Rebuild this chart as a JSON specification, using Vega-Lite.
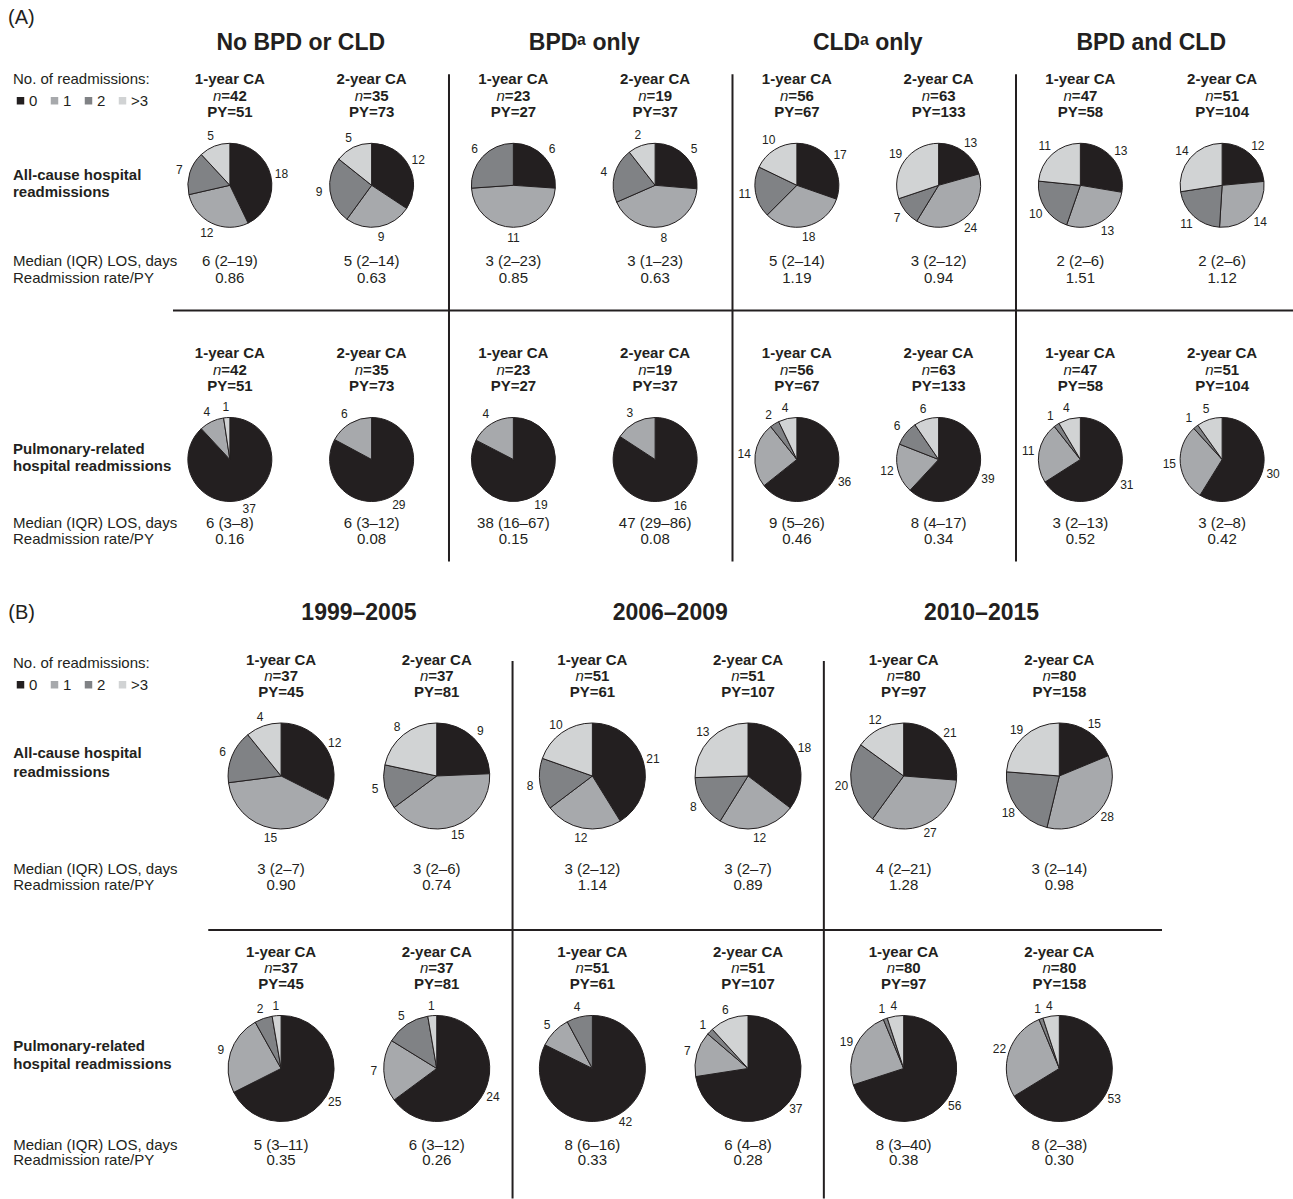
{
  "$schema": "https://vega.github.io/schema/vega-lite/v6.json",
  "padding": 0,
  "background": "white",
  "spacing": 0,
  "datasets": {
    "pies": [
      {"panel": "A", "group": "No BPD or CLD", "time": "1-year CA", "row": "All-cause", "category": "0", "n": 18},
      {"panel": "A", "group": "No BPD or CLD", "time": "1-year CA", "row": "All-cause", "category": "1", "n": 12},
      {"panel": "A", "group": "No BPD or CLD", "time": "1-year CA", "row": "All-cause", "category": "2", "n": 7},
      {"panel": "A", "group": "No BPD or CLD", "time": "1-year CA", "row": "All-cause", "category": ">3", "n": 5},
      {"panel": "A", "group": "No BPD or CLD", "time": "2-year CA", "row": "All-cause", "category": "0", "n": 12},
      {"panel": "A", "group": "No BPD or CLD", "time": "2-year CA", "row": "All-cause", "category": "1", "n": 9},
      {"panel": "A", "group": "No BPD or CLD", "time": "2-year CA", "row": "All-cause", "category": "2", "n": 9},
      {"panel": "A", "group": "No BPD or CLD", "time": "2-year CA", "row": "All-cause", "category": ">3", "n": 5},
      {"panel": "A", "group": "BPDᵃ only", "time": "1-year CA", "row": "All-cause", "category": "0", "n": 6},
      {"panel": "A", "group": "BPDᵃ only", "time": "1-year CA", "row": "All-cause", "category": "1", "n": 11},
      {"panel": "A", "group": "BPDᵃ only", "time": "1-year CA", "row": "All-cause", "category": "2", "n": 6},
      {"panel": "A", "group": "BPDᵃ only", "time": "2-year CA", "row": "All-cause", "category": "0", "n": 5},
      {"panel": "A", "group": "BPDᵃ only", "time": "2-year CA", "row": "All-cause", "category": "1", "n": 8},
      {"panel": "A", "group": "BPDᵃ only", "time": "2-year CA", "row": "All-cause", "category": "2", "n": 4},
      {"panel": "A", "group": "BPDᵃ only", "time": "2-year CA", "row": "All-cause", "category": ">3", "n": 2},
      {"panel": "A", "group": "CLDᵃ only", "time": "1-year CA", "row": "All-cause", "category": "0", "n": 17},
      {"panel": "A", "group": "CLDᵃ only", "time": "1-year CA", "row": "All-cause", "category": "1", "n": 18},
      {"panel": "A", "group": "CLDᵃ only", "time": "1-year CA", "row": "All-cause", "category": "2", "n": 11},
      {"panel": "A", "group": "CLDᵃ only", "time": "1-year CA", "row": "All-cause", "category": ">3", "n": 10},
      {"panel": "A", "group": "CLDᵃ only", "time": "2-year CA", "row": "All-cause", "category": "0", "n": 13},
      {"panel": "A", "group": "CLDᵃ only", "time": "2-year CA", "row": "All-cause", "category": "1", "n": 24},
      {"panel": "A", "group": "CLDᵃ only", "time": "2-year CA", "row": "All-cause", "category": "2", "n": 7},
      {"panel": "A", "group": "CLDᵃ only", "time": "2-year CA", "row": "All-cause", "category": ">3", "n": 19},
      {"panel": "A", "group": "BPD and CLD", "time": "1-year CA", "row": "All-cause", "category": "0", "n": 13},
      {"panel": "A", "group": "BPD and CLD", "time": "1-year CA", "row": "All-cause", "category": "1", "n": 13},
      {"panel": "A", "group": "BPD and CLD", "time": "1-year CA", "row": "All-cause", "category": "2", "n": 10},
      {"panel": "A", "group": "BPD and CLD", "time": "1-year CA", "row": "All-cause", "category": ">3", "n": 11},
      {"panel": "A", "group": "BPD and CLD", "time": "2-year CA", "row": "All-cause", "category": "0", "n": 12},
      {"panel": "A", "group": "BPD and CLD", "time": "2-year CA", "row": "All-cause", "category": "1", "n": 14},
      {"panel": "A", "group": "BPD and CLD", "time": "2-year CA", "row": "All-cause", "category": "2", "n": 11},
      {"panel": "A", "group": "BPD and CLD", "time": "2-year CA", "row": "All-cause", "category": ">3", "n": 14},
      {"panel": "A", "group": "No BPD or CLD", "time": "1-year CA", "row": "Pulmonary", "category": "0", "n": 37},
      {"panel": "A", "group": "No BPD or CLD", "time": "1-year CA", "row": "Pulmonary", "category": "1", "n": 4},
      {"panel": "A", "group": "No BPD or CLD", "time": "1-year CA", "row": "Pulmonary", "category": ">3", "n": 1},
      {"panel": "A", "group": "No BPD or CLD", "time": "2-year CA", "row": "Pulmonary", "category": "0", "n": 29},
      {"panel": "A", "group": "No BPD or CLD", "time": "2-year CA", "row": "Pulmonary", "category": "1", "n": 6},
      {"panel": "A", "group": "BPDᵃ only", "time": "1-year CA", "row": "Pulmonary", "category": "0", "n": 19},
      {"panel": "A", "group": "BPDᵃ only", "time": "1-year CA", "row": "Pulmonary", "category": "1", "n": 4},
      {"panel": "A", "group": "BPDᵃ only", "time": "2-year CA", "row": "Pulmonary", "category": "0", "n": 16},
      {"panel": "A", "group": "BPDᵃ only", "time": "2-year CA", "row": "Pulmonary", "category": "1", "n": 3},
      {"panel": "A", "group": "CLDᵃ only", "time": "1-year CA", "row": "Pulmonary", "category": "0", "n": 36},
      {"panel": "A", "group": "CLDᵃ only", "time": "1-year CA", "row": "Pulmonary", "category": "1", "n": 14},
      {"panel": "A", "group": "CLDᵃ only", "time": "1-year CA", "row": "Pulmonary", "category": "2", "n": 2},
      {"panel": "A", "group": "CLDᵃ only", "time": "1-year CA", "row": "Pulmonary", "category": ">3", "n": 4},
      {"panel": "A", "group": "CLDᵃ only", "time": "2-year CA", "row": "Pulmonary", "category": "0", "n": 39},
      {"panel": "A", "group": "CLDᵃ only", "time": "2-year CA", "row": "Pulmonary", "category": "1", "n": 12},
      {"panel": "A", "group": "CLDᵃ only", "time": "2-year CA", "row": "Pulmonary", "category": "2", "n": 6},
      {"panel": "A", "group": "CLDᵃ only", "time": "2-year CA", "row": "Pulmonary", "category": ">3", "n": 6},
      {"panel": "A", "group": "BPD and CLD", "time": "1-year CA", "row": "Pulmonary", "category": "0", "n": 31},
      {"panel": "A", "group": "BPD and CLD", "time": "1-year CA", "row": "Pulmonary", "category": "1", "n": 11},
      {"panel": "A", "group": "BPD and CLD", "time": "1-year CA", "row": "Pulmonary", "category": "2", "n": 1},
      {"panel": "A", "group": "BPD and CLD", "time": "1-year CA", "row": "Pulmonary", "category": ">3", "n": 4},
      {"panel": "A", "group": "BPD and CLD", "time": "2-year CA", "row": "Pulmonary", "category": "0", "n": 30},
      {"panel": "A", "group": "BPD and CLD", "time": "2-year CA", "row": "Pulmonary", "category": "1", "n": 15},
      {"panel": "A", "group": "BPD and CLD", "time": "2-year CA", "row": "Pulmonary", "category": "2", "n": 1},
      {"panel": "A", "group": "BPD and CLD", "time": "2-year CA", "row": "Pulmonary", "category": ">3", "n": 5},
      {"panel": "B", "group": "1999–2005", "time": "1-year CA", "row": "All-cause", "category": "0", "n": 12},
      {"panel": "B", "group": "1999–2005", "time": "1-year CA", "row": "All-cause", "category": "1", "n": 15},
      {"panel": "B", "group": "1999–2005", "time": "1-year CA", "row": "All-cause", "category": "2", "n": 6},
      {"panel": "B", "group": "1999–2005", "time": "1-year CA", "row": "All-cause", "category": ">3", "n": 4},
      {"panel": "B", "group": "1999–2005", "time": "2-year CA", "row": "All-cause", "category": "0", "n": 9},
      {"panel": "B", "group": "1999–2005", "time": "2-year CA", "row": "All-cause", "category": "1", "n": 15},
      {"panel": "B", "group": "1999–2005", "time": "2-year CA", "row": "All-cause", "category": "2", "n": 5},
      {"panel": "B", "group": "1999–2005", "time": "2-year CA", "row": "All-cause", "category": ">3", "n": 8},
      {"panel": "B", "group": "2006–2009", "time": "1-year CA", "row": "All-cause", "category": "0", "n": 21},
      {"panel": "B", "group": "2006–2009", "time": "1-year CA", "row": "All-cause", "category": "1", "n": 12},
      {"panel": "B", "group": "2006–2009", "time": "1-year CA", "row": "All-cause", "category": "2", "n": 8},
      {"panel": "B", "group": "2006–2009", "time": "1-year CA", "row": "All-cause", "category": ">3", "n": 10},
      {"panel": "B", "group": "2006–2009", "time": "2-year CA", "row": "All-cause", "category": "0", "n": 18},
      {"panel": "B", "group": "2006–2009", "time": "2-year CA", "row": "All-cause", "category": "1", "n": 12},
      {"panel": "B", "group": "2006–2009", "time": "2-year CA", "row": "All-cause", "category": "2", "n": 8},
      {"panel": "B", "group": "2006–2009", "time": "2-year CA", "row": "All-cause", "category": ">3", "n": 13},
      {"panel": "B", "group": "2010–2015", "time": "1-year CA", "row": "All-cause", "category": "0", "n": 21},
      {"panel": "B", "group": "2010–2015", "time": "1-year CA", "row": "All-cause", "category": "1", "n": 27},
      {"panel": "B", "group": "2010–2015", "time": "1-year CA", "row": "All-cause", "category": "2", "n": 20},
      {"panel": "B", "group": "2010–2015", "time": "1-year CA", "row": "All-cause", "category": ">3", "n": 12},
      {"panel": "B", "group": "2010–2015", "time": "2-year CA", "row": "All-cause", "category": "0", "n": 15},
      {"panel": "B", "group": "2010–2015", "time": "2-year CA", "row": "All-cause", "category": "1", "n": 28},
      {"panel": "B", "group": "2010–2015", "time": "2-year CA", "row": "All-cause", "category": "2", "n": 18},
      {"panel": "B", "group": "2010–2015", "time": "2-year CA", "row": "All-cause", "category": ">3", "n": 19},
      {"panel": "B", "group": "1999–2005", "time": "1-year CA", "row": "Pulmonary", "category": "0", "n": 25},
      {"panel": "B", "group": "1999–2005", "time": "1-year CA", "row": "Pulmonary", "category": "1", "n": 9},
      {"panel": "B", "group": "1999–2005", "time": "1-year CA", "row": "Pulmonary", "category": "2", "n": 2},
      {"panel": "B", "group": "1999–2005", "time": "1-year CA", "row": "Pulmonary", "category": ">3", "n": 1},
      {"panel": "B", "group": "1999–2005", "time": "2-year CA", "row": "Pulmonary", "category": "0", "n": 24},
      {"panel": "B", "group": "1999–2005", "time": "2-year CA", "row": "Pulmonary", "category": "1", "n": 7},
      {"panel": "B", "group": "1999–2005", "time": "2-year CA", "row": "Pulmonary", "category": "2", "n": 5},
      {"panel": "B", "group": "1999–2005", "time": "2-year CA", "row": "Pulmonary", "category": ">3", "n": 1},
      {"panel": "B", "group": "2006–2009", "time": "1-year CA", "row": "Pulmonary", "category": "0", "n": 42},
      {"panel": "B", "group": "2006–2009", "time": "1-year CA", "row": "Pulmonary", "category": "1", "n": 5},
      {"panel": "B", "group": "2006–2009", "time": "1-year CA", "row": "Pulmonary", "category": "2", "n": 4},
      {"panel": "B", "group": "2006–2009", "time": "2-year CA", "row": "Pulmonary", "category": "0", "n": 37},
      {"panel": "B", "group": "2006–2009", "time": "2-year CA", "row": "Pulmonary", "category": "1", "n": 7},
      {"panel": "B", "group": "2006–2009", "time": "2-year CA", "row": "Pulmonary", "category": "2", "n": 1},
      {"panel": "B", "group": "2006–2009", "time": "2-year CA", "row": "Pulmonary", "category": ">3", "n": 6},
      {"panel": "B", "group": "2010–2015", "time": "1-year CA", "row": "Pulmonary", "category": "0", "n": 56},
      {"panel": "B", "group": "2010–2015", "time": "1-year CA", "row": "Pulmonary", "category": "1", "n": 19},
      {"panel": "B", "group": "2010–2015", "time": "1-year CA", "row": "Pulmonary", "category": "2", "n": 1},
      {"panel": "B", "group": "2010–2015", "time": "1-year CA", "row": "Pulmonary", "category": ">3", "n": 4},
      {"panel": "B", "group": "2010–2015", "time": "2-year CA", "row": "Pulmonary", "category": "0", "n": 53},
      {"panel": "B", "group": "2010–2015", "time": "2-year CA", "row": "Pulmonary", "category": "1", "n": 22},
      {"panel": "B", "group": "2010–2015", "time": "2-year CA", "row": "Pulmonary", "category": "2", "n": 1},
      {"panel": "B", "group": "2010–2015", "time": "2-year CA", "row": "Pulmonary", "category": ">3", "n": 4}
    ],
    "cells": [
      {"panel": "A", "group": "No BPD or CLD", "time": "1-year CA", "row": "All-cause", "nn": "=42", "py": "PY=51", "los": "6 (2–19)", "rate": "0.86"},
      {"panel": "A", "group": "No BPD or CLD", "time": "2-year CA", "row": "All-cause", "nn": "=35", "py": "PY=73", "los": "5 (2–14)", "rate": "0.63"},
      {"panel": "A", "group": "BPDᵃ only", "time": "1-year CA", "row": "All-cause", "nn": "=23", "py": "PY=27", "los": "3 (2–23)", "rate": "0.85"},
      {"panel": "A", "group": "BPDᵃ only", "time": "2-year CA", "row": "All-cause", "nn": "=19", "py": "PY=37", "los": "3 (1–23)", "rate": "0.63"},
      {"panel": "A", "group": "CLDᵃ only", "time": "1-year CA", "row": "All-cause", "nn": "=56", "py": "PY=67", "los": "5 (2–14)", "rate": "1.19"},
      {"panel": "A", "group": "CLDᵃ only", "time": "2-year CA", "row": "All-cause", "nn": "=63", "py": "PY=133", "los": "3 (2–12)", "rate": "0.94"},
      {"panel": "A", "group": "BPD and CLD", "time": "1-year CA", "row": "All-cause", "nn": "=47", "py": "PY=58", "los": "2 (2–6)", "rate": "1.51"},
      {"panel": "A", "group": "BPD and CLD", "time": "2-year CA", "row": "All-cause", "nn": "=51", "py": "PY=104", "los": "2 (2–6)", "rate": "1.12"},
      {"panel": "A", "group": "No BPD or CLD", "time": "1-year CA", "row": "Pulmonary", "nn": "=42", "py": "PY=51", "los": "6 (3–8)", "rate": "0.16"},
      {"panel": "A", "group": "No BPD or CLD", "time": "2-year CA", "row": "Pulmonary", "nn": "=35", "py": "PY=73", "los": "6 (3–12)", "rate": "0.08"},
      {"panel": "A", "group": "BPDᵃ only", "time": "1-year CA", "row": "Pulmonary", "nn": "=23", "py": "PY=27", "los": "38 (16–67)", "rate": "0.15"},
      {"panel": "A", "group": "BPDᵃ only", "time": "2-year CA", "row": "Pulmonary", "nn": "=19", "py": "PY=37", "los": "47 (29–86)", "rate": "0.08"},
      {"panel": "A", "group": "CLDᵃ only", "time": "1-year CA", "row": "Pulmonary", "nn": "=56", "py": "PY=67", "los": "9 (5–26)", "rate": "0.46"},
      {"panel": "A", "group": "CLDᵃ only", "time": "2-year CA", "row": "Pulmonary", "nn": "=63", "py": "PY=133", "los": "8 (4–17)", "rate": "0.34"},
      {"panel": "A", "group": "BPD and CLD", "time": "1-year CA", "row": "Pulmonary", "nn": "=47", "py": "PY=58", "los": "3 (2–13)", "rate": "0.52"},
      {"panel": "A", "group": "BPD and CLD", "time": "2-year CA", "row": "Pulmonary", "nn": "=51", "py": "PY=104", "los": "3 (2–8)", "rate": "0.42"},
      {"panel": "B", "group": "1999–2005", "time": "1-year CA", "row": "All-cause", "nn": "=37", "py": "PY=45", "los": "3 (2–7)", "rate": "0.90"},
      {"panel": "B", "group": "1999–2005", "time": "2-year CA", "row": "All-cause", "nn": "=37", "py": "PY=81", "los": "3 (2–6)", "rate": "0.74"},
      {"panel": "B", "group": "2006–2009", "time": "1-year CA", "row": "All-cause", "nn": "=51", "py": "PY=61", "los": "3 (2–12)", "rate": "1.14"},
      {"panel": "B", "group": "2006–2009", "time": "2-year CA", "row": "All-cause", "nn": "=51", "py": "PY=107", "los": "3 (2–7)", "rate": "0.89"},
      {"panel": "B", "group": "2010–2015", "time": "1-year CA", "row": "All-cause", "nn": "=80", "py": "PY=97", "los": "4 (2–21)", "rate": "1.28"},
      {"panel": "B", "group": "2010–2015", "time": "2-year CA", "row": "All-cause", "nn": "=80", "py": "PY=158", "los": "3 (2–14)", "rate": "0.98"},
      {"panel": "B", "group": "1999–2005", "time": "1-year CA", "row": "Pulmonary", "nn": "=37", "py": "PY=45", "los": "5 (3–11)", "rate": "0.35"},
      {"panel": "B", "group": "1999–2005", "time": "2-year CA", "row": "Pulmonary", "nn": "=37", "py": "PY=81", "los": "6 (3–12)", "rate": "0.26"},
      {"panel": "B", "group": "2006–2009", "time": "1-year CA", "row": "Pulmonary", "nn": "=51", "py": "PY=61", "los": "8 (6–16)", "rate": "0.33"},
      {"panel": "B", "group": "2006–2009", "time": "2-year CA", "row": "Pulmonary", "nn": "=51", "py": "PY=107", "los": "6 (4–8)", "rate": "0.28"},
      {"panel": "B", "group": "2010–2015", "time": "1-year CA", "row": "Pulmonary", "nn": "=80", "py": "PY=97", "los": "8 (3–40)", "rate": "0.38"},
      {"panel": "B", "group": "2010–2015", "time": "2-year CA", "row": "Pulmonary", "nn": "=80", "py": "PY=158", "los": "8 (2–38)", "rate": "0.30"}
    ],
    "groups": [
      {"panel": "A", "group": "No BPD or CLD", "order": 1},
      {"panel": "A", "group": "BPDᵃ only", "order": 2},
      {"panel": "A", "group": "CLDᵃ only", "order": 3},
      {"panel": "A", "group": "BPD and CLD", "order": 4},
      {"panel": "B", "group": "1999–2005", "order": 1},
      {"panel": "B", "group": "2006–2009", "order": 2},
      {"panel": "B", "group": "2010–2015", "order": 3}
    ],
    "rows": [
      {"row": "All-cause", "title": "All-cause hospital\nreadmissions", "stat": "Median (IQR) LOS, days\nReadmission rate/PY"},
      {"row": "Pulmonary", "title": "Pulmonary-related\nhospital readmissions", "stat": "Median (IQR) LOS, days\nReadmission rate/PY"}
    ],
    "panels": [
      {"panel": "A", "label": "(A)"},
      {"panel": "B", "label": "(B)"}
    ]
  },
  "vconcat": [
    {
      "width": 1293,
      "height": 595,
      "layer": [
        {
          "data": {"name": "groups"},
          "transform": [{"filter": "datum.panel === 'A' && datum.order > 1"}],
          "mark": {"type": "rule", "color": "#231f20", "strokeWidth": 2, "xOffset": 6.5, "yOffset": -111, "y2Offset": 102},
          "encoding": {
            "x": {"field": "group", "type": "nominal", "bandPosition": 0, "axis": null, "scale": {"domain": ["No BPD or CLD", "BPDᵃ only", "CLDᵃ only", "BPD and CLD"], "paddingInner": 0, "paddingOuter": 0.2804, "align": 1}},
            "y": {"datum": "All-cause", "type": "nominal", "axis": null, "scale": {"type": "point", "domain": ["All-cause", "Pulmonary"], "padding": 0.585, "align": 0.5776}},
            "y2": {"datum": "Pulmonary"}
          }
        },
        {
          "data": {"name": "panels"},
          "transform": [{"filter": "datum.panel === 'A'"}],
          "mark": {"type": "rule", "color": "#231f20", "strokeWidth": 2, "xOffset": 14, "yOffset": -149},
          "encoding": {
            "x": {"datum": "No BPD or CLD", "type": "nominal", "bandPosition": 0, "axis": null},
            "x2": {"value": "width"},
            "y": {"datum": "Pulmonary", "type": "nominal", "axis": null}
          }
        },
        {
          "data": {"name": "pies"},
          "transform": [
            {"filter": "datum.panel === 'A'"},
            {"stack": "n", "groupby": ["group", "time", "row"], "sort": [{"field": "category"}], "offset": "normalize", "as": ["s0", "s1"]}
          ],
          "mark": {"type": "arc", "radius": 42, "stroke": "#231f20", "strokeWidth": 1},
          "encoding": {
            "x": {"field": "group", "type": "nominal", "axis": null},
            "xOffset": {"field": "time", "type": "nominal", "scale": {"type": "point", "domain": ["1-year CA", "2-year CA"], "padding": 0.5}},
            "y": {"field": "row", "type": "nominal", "axis": null},
            "theta": {"field": "s0", "type": "quantitative", "scale": {"domain": [0, 1]}},
            "theta2": {"field": "s1"},
            "color": {
              "field": "category", "type": "nominal",
              "scale": {"domain": ["0", "1", "2", ">3"], "range": ["#231f20", "#a7a9ac", "#808285", "#d1d3d4"]},
              "legend": {"orient": "none", "legendX": 13, "legendY": 72, "direction": "horizontal", "title": "No. of readmissions:", "titleFontSize": 15, "titleFontWeight": "normal", "titleColor": "#231f20", "titlePadding": 6, "labelFontSize": 15, "labelColor": "#231f20", "symbolType": "square", "symbolSize": 56, "symbolStrokeWidth": 0, "labelOffset": 1, "columnPadding": 9, "padding": 0}
            }
          }
        },
        {
          "data": {"name": "pies"},
          "transform": [
            {"filter": "datum.panel === 'A'"},
            {"stack": "n", "groupby": ["group", "time", "row"], "sort": [{"field": "category"}], "offset": "normalize", "as": ["s0", "s1"]},
            {"calculate": "(datum.s0 + datum.s1) / 2", "as": "mid"}
          ],
          "mark": {"type": "text", "radius": 53, "fontSize": 12},
          "encoding": {
            "x": {"field": "group", "type": "nominal", "axis": null},
            "xOffset": {"field": "time", "type": "nominal", "scale": {"type": "point", "domain": ["1-year CA", "2-year CA"], "padding": 0.5}},
            "y": {"field": "row", "type": "nominal", "axis": null},
            "theta": {"field": "mid", "type": "quantitative", "stack": null, "scale": {"domain": [0, 1]}},
            "text": {"field": "n", "type": "nominal"}
          }
        },
        {
          "data": {"name": "panels"},
          "transform": [{"filter": "datum.panel === 'A'"}],
          "mark": {"type": "text", "fontSize": 20, "align": "left", "dx": -151, "dy": -167},
          "encoding": {
            "x": {"datum": "No BPD or CLD", "type": "nominal", "bandPosition": 0},
            "y": {"datum": "All-cause", "type": "nominal"},
            "text": {"field": "label"}
          }
        },
        {
          "data": {"name": "groups"},
          "transform": [{"filter": "datum.panel === 'A'"}],
          "mark": {"type": "text", "fontSize": 23, "fontWeight": "bold", "dy": -142},
          "encoding": {
            "x": {"field": "group", "type": "nominal"},
            "y": {"datum": "All-cause", "type": "nominal"},
            "text": {"field": "group"}
          }
        },
        {
          "data": {"name": "rows"},
          "mark": {"type": "text", "fontSize": 15, "fontWeight": "bold", "align": "left", "dx": -146, "dy": -10, "lineBreak": "\n", "lineHeight": 16.5},
          "encoding": {
            "x": {"datum": "No BPD or CLD", "type": "nominal", "bandPosition": 0},
            "y": {"field": "row", "type": "nominal"},
            "text": {"field": "title"}
          }
        },
        {
          "data": {"name": "rows"},
          "transform": [{"filter": "datum.row === 'All-cause'"}],
          "mark": {"type": "text", "fontSize": 15, "align": "left", "dx": -146, "dy": 76, "lineBreak": "\n", "lineHeight": 17},
          "encoding": {
            "x": {"datum": "No BPD or CLD", "type": "nominal", "bandPosition": 0},
            "y": {"field": "row", "type": "nominal"},
            "text": {"field": "stat"}
          }
        },
        {
          "data": {"name": "rows"},
          "transform": [{"filter": "datum.row === 'Pulmonary'"}],
          "mark": {"type": "text", "fontSize": 15, "align": "left", "dx": -146, "dy": 64, "lineBreak": "\n", "lineHeight": 16},
          "encoding": {
            "x": {"datum": "No BPD or CLD", "type": "nominal", "bandPosition": 0},
            "y": {"field": "row", "type": "nominal"},
            "text": {"field": "stat"}
          }
        },
        {
          "data": {"name": "cells"},
          "transform": [{"filter": "datum.panel === 'A'"}],
          "mark": {"type": "text", "fontSize": 15, "fontWeight": "bold", "dy": -106},
          "encoding": {
            "x": {"field": "group", "type": "nominal"},
            "xOffset": {"field": "time", "type": "nominal", "scale": {"type": "point", "domain": ["1-year CA", "2-year CA"], "padding": 0.5}},
            "y": {"field": "row", "type": "nominal"},
            "text": {"field": "time"}
          }
        },
        {
          "data": {"name": "cells"},
          "transform": [{"filter": "datum.panel === 'A'"}],
          "mark": {"type": "text", "fontSize": 15, "fontStyle": "italic", "align": "right", "dx": -8.5, "dy": -89, "text": "n"},
          "encoding": {
            "x": {"field": "group", "type": "nominal"},
            "xOffset": {"field": "time", "type": "nominal", "scale": {"type": "point", "domain": ["1-year CA", "2-year CA"], "padding": 0.5}},
            "y": {"field": "row", "type": "nominal"}
          }
        },
        {
          "data": {"name": "cells"},
          "transform": [{"filter": "datum.panel === 'A'"}],
          "mark": {"type": "text", "fontSize": 15, "fontWeight": "bold", "align": "left", "dx": -8.5, "dy": -89},
          "encoding": {
            "x": {"field": "group", "type": "nominal"},
            "xOffset": {"field": "time", "type": "nominal", "scale": {"type": "point", "domain": ["1-year CA", "2-year CA"], "padding": 0.5}},
            "y": {"field": "row", "type": "nominal"},
            "text": {"field": "nn"}
          }
        },
        {
          "data": {"name": "cells"},
          "transform": [{"filter": "datum.panel === 'A'"}],
          "mark": {"type": "text", "fontSize": 15, "fontWeight": "bold", "dy": -73},
          "encoding": {
            "x": {"field": "group", "type": "nominal"},
            "xOffset": {"field": "time", "type": "nominal", "scale": {"type": "point", "domain": ["1-year CA", "2-year CA"], "padding": 0.5}},
            "y": {"field": "row", "type": "nominal"},
            "text": {"field": "py"}
          }
        },
        {
          "data": {"name": "cells"},
          "transform": [{"filter": "datum.panel === 'A' && datum.row === 'All-cause'"}],
          "mark": {"type": "text", "fontSize": 15, "dy": 76},
          "encoding": {
            "x": {"field": "group", "type": "nominal"},
            "xOffset": {"field": "time", "type": "nominal", "scale": {"type": "point", "domain": ["1-year CA", "2-year CA"], "padding": 0.5}},
            "y": {"field": "row", "type": "nominal"},
            "text": {"field": "los"}
          }
        },
        {
          "data": {"name": "cells"},
          "transform": [{"filter": "datum.panel === 'A' && datum.row === 'All-cause'"}],
          "mark": {"type": "text", "fontSize": 15, "dy": 93},
          "encoding": {
            "x": {"field": "group", "type": "nominal"},
            "xOffset": {"field": "time", "type": "nominal", "scale": {"type": "point", "domain": ["1-year CA", "2-year CA"], "padding": 0.5}},
            "y": {"field": "row", "type": "nominal"},
            "text": {"field": "rate"}
          }
        },
        {
          "data": {"name": "cells"},
          "transform": [{"filter": "datum.panel === 'A' && datum.row === 'Pulmonary'"}],
          "mark": {"type": "text", "fontSize": 15, "dy": 64},
          "encoding": {
            "x": {"field": "group", "type": "nominal"},
            "xOffset": {"field": "time", "type": "nominal", "scale": {"type": "point", "domain": ["1-year CA", "2-year CA"], "padding": 0.5}},
            "y": {"field": "row", "type": "nominal"},
            "text": {"field": "los"}
          }
        },
        {
          "data": {"name": "cells"},
          "transform": [{"filter": "datum.panel === 'A' && datum.row === 'Pulmonary'"}],
          "mark": {"type": "text", "fontSize": 15, "dy": 80},
          "encoding": {
            "x": {"field": "group", "type": "nominal"},
            "xOffset": {"field": "time", "type": "nominal", "scale": {"type": "point", "domain": ["1-year CA", "2-year CA"], "padding": 0.5}},
            "y": {"field": "row", "type": "nominal"},
            "text": {"field": "rate"}
          }
        }
      ]
    },
    {
      "width": 1293,
      "height": 604,
      "layer": [
        {
          "data": {"name": "groups"},
          "transform": [{"filter": "datum.panel === 'B' && datum.order > 1"}],
          "mark": {"type": "rule", "color": "#231f20", "strokeWidth": 2, "xOffset": -2, "yOffset": -115, "y2Offset": 130},
          "encoding": {
            "x": {"field": "group", "type": "nominal", "bandPosition": 0, "axis": null, "scale": {"domain": ["1999–2005", "2006–2009", "2010–2015"], "paddingInner": 0, "paddingOuter": 0.5768, "align": 0.566}},
            "y": {"datum": "All-cause", "type": "nominal", "axis": null, "scale": {"type": "point", "domain": ["All-cause", "Pulmonary"], "padding": 0.5325, "align": 0.581}},
            "y2": {"datum": "Pulmonary"}
          }
        },
        {
          "data": {"name": "panels"},
          "transform": [{"filter": "datum.panel === 'B'"}],
          "mark": {"type": "rule", "color": "#231f20", "strokeWidth": 2, "xOffset": 5, "x2Offset": -131, "yOffset": -138.5},
          "encoding": {
            "x": {"datum": "1999–2005", "type": "nominal", "bandPosition": 0, "axis": null},
            "x2": {"value": "width"},
            "y": {"datum": "Pulmonary", "type": "nominal", "axis": null}
          }
        },
        {
          "data": {"name": "pies"},
          "transform": [
            {"filter": "datum.panel === 'B'"},
            {"stack": "n", "groupby": ["group", "time", "row"], "sort": [{"field": "category"}], "offset": "normalize", "as": ["s0", "s1"]}
          ],
          "mark": {"type": "arc", "radius": 53, "stroke": "#231f20", "strokeWidth": 1},
          "encoding": {
            "x": {"field": "group", "type": "nominal", "axis": null},
            "xOffset": {"field": "time", "type": "nominal", "scale": {"type": "point", "domain": ["1-year CA", "2-year CA"], "padding": 0.5}},
            "y": {"field": "row", "type": "nominal", "axis": null},
            "theta": {"field": "s0", "type": "quantitative", "scale": {"domain": [0, 1]}},
            "theta2": {"field": "s1"},
            "color": {
              "field": "category", "type": "nominal",
              "scale": {"domain": ["0", "1", "2", ">3"], "range": ["#231f20", "#a7a9ac", "#808285", "#d1d3d4"]},
              "legend": {"orient": "none", "legendX": 13, "legendY": 61, "direction": "horizontal", "title": "No. of readmissions:", "titleFontSize": 15, "titleFontWeight": "normal", "titleColor": "#231f20", "titlePadding": 6, "labelFontSize": 15, "labelColor": "#231f20", "symbolType": "square", "symbolSize": 56, "symbolStrokeWidth": 0, "labelOffset": 1, "columnPadding": 9, "padding": 0}
            }
          }
        },
        {
          "data": {"name": "pies"},
          "transform": [
            {"filter": "datum.panel === 'B'"},
            {"stack": "n", "groupby": ["group", "time", "row"], "sort": [{"field": "category"}], "offset": "normalize", "as": ["s0", "s1"]},
            {"calculate": "(datum.s0 + datum.s1) / 2", "as": "mid"}
          ],
          "mark": {"type": "text", "radius": 63, "fontSize": 12},
          "encoding": {
            "x": {"field": "group", "type": "nominal", "axis": null},
            "xOffset": {"field": "time", "type": "nominal", "scale": {"type": "point", "domain": ["1-year CA", "2-year CA"], "padding": 0.5}},
            "y": {"field": "row", "type": "nominal", "axis": null},
            "theta": {"field": "mid", "type": "quantitative", "stack": null, "scale": {"domain": [0, 1]}},
            "text": {"field": "n", "type": "nominal"}
          }
        },
        {
          "data": {"name": "panels"},
          "transform": [{"filter": "datum.panel === 'B'"}],
          "mark": {"type": "text", "fontSize": 20, "align": "left", "dx": -195, "dy": -163},
          "encoding": {
            "x": {"datum": "1999–2005", "type": "nominal", "bandPosition": 0},
            "y": {"datum": "All-cause", "type": "nominal"},
            "text": {"field": "label"}
          }
        },
        {
          "data": {"name": "groups"},
          "transform": [{"filter": "datum.panel === 'B'"}],
          "mark": {"type": "text", "fontSize": 23, "fontWeight": "bold", "dy": -163},
          "encoding": {
            "x": {"field": "group", "type": "nominal"},
            "y": {"datum": "All-cause", "type": "nominal"},
            "text": {"field": "group"}
          }
        },
        {
          "data": {"name": "rows"},
          "mark": {"type": "text", "fontSize": 15, "fontWeight": "bold", "align": "left", "dx": -190, "dy": -22.5, "lineBreak": "\n", "lineHeight": 18.5},
          "encoding": {
            "x": {"datum": "1999–2005", "type": "nominal", "bandPosition": 0},
            "y": {"field": "row", "type": "nominal"},
            "text": {"field": "title"}
          }
        },
        {
          "data": {"name": "rows"},
          "transform": [{"filter": "datum.row === 'All-cause'"}],
          "mark": {"type": "text", "fontSize": 15, "align": "left", "dx": -190, "dy": 93, "lineBreak": "\n", "lineHeight": 16},
          "encoding": {
            "x": {"datum": "1999–2005", "type": "nominal", "bandPosition": 0},
            "y": {"field": "row", "type": "nominal"},
            "text": {"field": "stat"}
          }
        },
        {
          "data": {"name": "rows"},
          "transform": [{"filter": "datum.row === 'Pulmonary'"}],
          "mark": {"type": "text", "fontSize": 15, "align": "left", "dx": -190, "dy": 77, "lineBreak": "\n", "lineHeight": 15},
          "encoding": {
            "x": {"datum": "1999–2005", "type": "nominal", "bandPosition": 0},
            "y": {"field": "row", "type": "nominal"},
            "text": {"field": "stat"}
          }
        },
        {
          "data": {"name": "cells"},
          "transform": [{"filter": "datum.panel === 'B'"}],
          "mark": {"type": "text", "fontSize": 15, "fontWeight": "bold", "dy": -116},
          "encoding": {
            "x": {"field": "group", "type": "nominal"},
            "xOffset": {"field": "time", "type": "nominal", "scale": {"type": "point", "domain": ["1-year CA", "2-year CA"], "padding": 0.5}},
            "y": {"field": "row", "type": "nominal"},
            "text": {"field": "time"}
          }
        },
        {
          "data": {"name": "cells"},
          "transform": [{"filter": "datum.panel === 'B'"}],
          "mark": {"type": "text", "fontSize": 15, "fontStyle": "italic", "align": "right", "dx": -8.5, "dy": -100, "text": "n"},
          "encoding": {
            "x": {"field": "group", "type": "nominal"},
            "xOffset": {"field": "time", "type": "nominal", "scale": {"type": "point", "domain": ["1-year CA", "2-year CA"], "padding": 0.5}},
            "y": {"field": "row", "type": "nominal"}
          }
        },
        {
          "data": {"name": "cells"},
          "transform": [{"filter": "datum.panel === 'B'"}],
          "mark": {"type": "text", "fontSize": 15, "fontWeight": "bold", "align": "left", "dx": -8.5, "dy": -100},
          "encoding": {
            "x": {"field": "group", "type": "nominal"},
            "xOffset": {"field": "time", "type": "nominal", "scale": {"type": "point", "domain": ["1-year CA", "2-year CA"], "padding": 0.5}},
            "y": {"field": "row", "type": "nominal"},
            "text": {"field": "nn"}
          }
        },
        {
          "data": {"name": "cells"},
          "transform": [{"filter": "datum.panel === 'B'"}],
          "mark": {"type": "text", "fontSize": 15, "fontWeight": "bold", "dy": -84},
          "encoding": {
            "x": {"field": "group", "type": "nominal"},
            "xOffset": {"field": "time", "type": "nominal", "scale": {"type": "point", "domain": ["1-year CA", "2-year CA"], "padding": 0.5}},
            "y": {"field": "row", "type": "nominal"},
            "text": {"field": "py"}
          }
        },
        {
          "data": {"name": "cells"},
          "transform": [{"filter": "datum.panel === 'B' && datum.row === 'All-cause'"}],
          "mark": {"type": "text", "fontSize": 15, "dy": 93},
          "encoding": {
            "x": {"field": "group", "type": "nominal"},
            "xOffset": {"field": "time", "type": "nominal", "scale": {"type": "point", "domain": ["1-year CA", "2-year CA"], "padding": 0.5}},
            "y": {"field": "row", "type": "nominal"},
            "text": {"field": "los"}
          }
        },
        {
          "data": {"name": "cells"},
          "transform": [{"filter": "datum.panel === 'B' && datum.row === 'All-cause'"}],
          "mark": {"type": "text", "fontSize": 15, "dy": 109},
          "encoding": {
            "x": {"field": "group", "type": "nominal"},
            "xOffset": {"field": "time", "type": "nominal", "scale": {"type": "point", "domain": ["1-year CA", "2-year CA"], "padding": 0.5}},
            "y": {"field": "row", "type": "nominal"},
            "text": {"field": "rate"}
          }
        },
        {
          "data": {"name": "cells"},
          "transform": [{"filter": "datum.panel === 'B' && datum.row === 'Pulmonary'"}],
          "mark": {"type": "text", "fontSize": 15, "dy": 77},
          "encoding": {
            "x": {"field": "group", "type": "nominal"},
            "xOffset": {"field": "time", "type": "nominal", "scale": {"type": "point", "domain": ["1-year CA", "2-year CA"], "padding": 0.5}},
            "y": {"field": "row", "type": "nominal"},
            "text": {"field": "los"}
          }
        },
        {
          "data": {"name": "cells"},
          "transform": [{"filter": "datum.panel === 'B' && datum.row === 'Pulmonary'"}],
          "mark": {"type": "text", "fontSize": 15, "dy": 92},
          "encoding": {
            "x": {"field": "group", "type": "nominal"},
            "xOffset": {"field": "time", "type": "nominal", "scale": {"type": "point", "domain": ["1-year CA", "2-year CA"], "padding": 0.5}},
            "y": {"field": "row", "type": "nominal"},
            "text": {"field": "rate"}
          }
        }
      ]
    }
  ],
  "resolve": {
    "scale": {"x": "independent", "y": "independent", "xOffset": "independent", "theta": "independent", "color": "independent"},
    "legend": {"color": "independent"}
  },
  "config": {
    "view": {"stroke": null},
    "font": "Liberation Sans",
    "text": {"font": "Liberation Sans", "color": "#231f20", "baseline": "middle"},
    "legend": {"titleFont": "Liberation Sans", "labelFont": "Liberation Sans"}
  }
}
